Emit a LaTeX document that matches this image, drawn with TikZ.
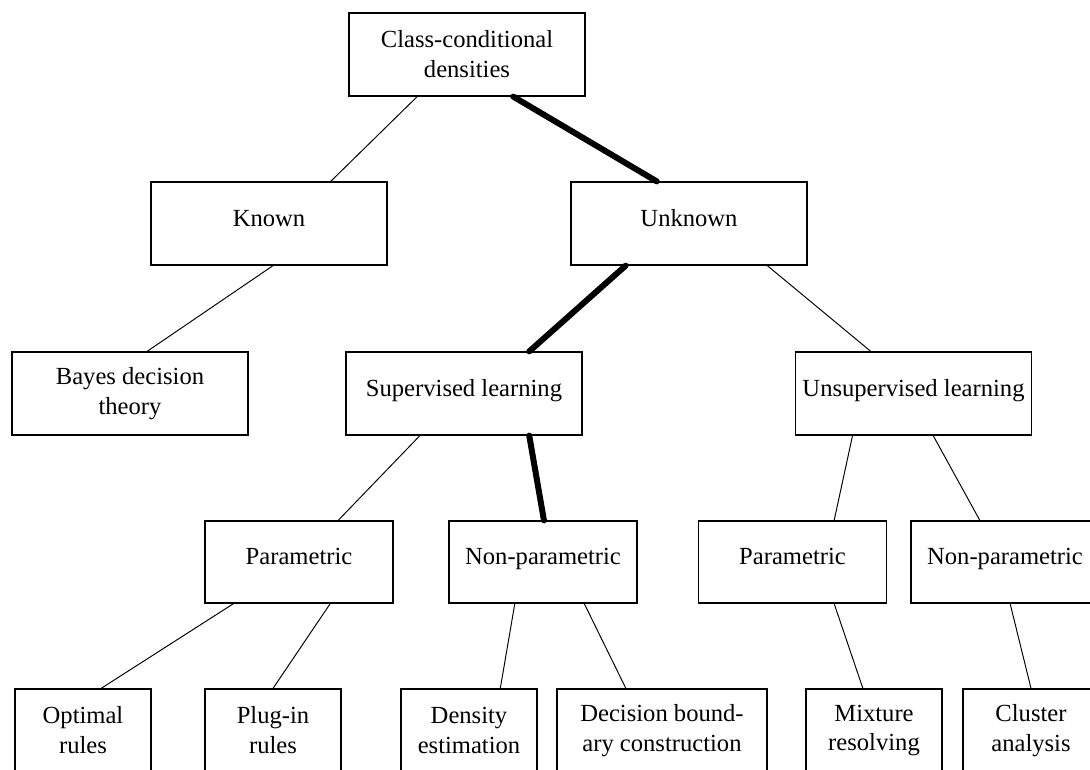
\documentclass[tikz,border=0pt]{standalone}
\usepackage{fontspec}
\setmainfont{Liberation Serif}
\usepackage{tikz}
\usetikzlibrary{calc}

\tikzset{
    box/.style={draw, line width=0.7pt, minimum width=4.72cm, minimum height=1.66cm,
        inner sep=0pt, align=center, font=\fontsize{14}{17}\selectfont},
    single/.style={text height=10pt, text depth=7pt},
    midbox/.style={box, minimum width=3.76cm, minimum height=1.64cm},
    leafbox/.style={box, minimum width=2.72cm},
    link/.style={line width=0.55pt},
    boldlink/.style={line width=3.4pt, line cap=round}
}

\begin{document}
\begin{tikzpicture}
    % Page frame
    \useasboundingbox (0,0) rectangle (21.8,-15.38);
    \clip (0,0) rectangle (21.8,-15.38);

    % Top level
    \node[box] (cls) at (9.34,-1.09) {Class-conditional\\densities};

    % Known / unknown densities
    \node[box, single] (known) at (5.38,-4.47) {Known};
    \node[box, single] (unknown) at (13.78,-4.47) {Unknown};

    % Third level
    \node[box] (bayes) at (2.60,-7.87) {Bayes decision\\theory};
    \node[box, single] (sup) at (9.28,-7.87) {Supervised learning};
    \node[box, single] (unsup) at (18.27,-7.87) {Unsupervised learning};

    % Parametric / non-parametric
    \node[midbox, single] (parl) at (5.98,-11.24) {Parametric};
    \node[midbox, single] (nparl) at (10.86,-11.24) {Non-parametric};
    \node[midbox, single] (parr) at (15.85,-11.24) {Parametric};
    \node[midbox, single] (nparr) at (20.10,-11.24) {Non-parametric};

    % Leaves
    \node[leafbox] (optimal) at (1.66,-14.61) {Optimal\\rules};
    \node[leafbox] (plugin) at (5.46,-14.61) {Plug-in\\rules};
    \node[leafbox] (density) at (9.38,-14.61) {Density\\estimation};
    \node[leafbox, minimum width=4.2cm] (boundary) at (13.24,-14.61) {Decision bound-\\ary construction};
    \node[leafbox] (mixture) at (17.48,-14.61) {Mixture\\resolving};
    \node[leafbox] (cluster) at (20.62,-14.61) {Cluster\\analysis};

    % Draw connecting lines
    \draw[link] ($(cls.south west)!.29!(cls.south east)$) -- ($(known.north west)!.76!(known.north east)$);
    \draw[boldlink] ($(cls.south west)!.695!(cls.south east)$) -- ($(unknown.north west)!.364!(unknown.north east)$);
    \draw[link] ($(known.south west)!.517!(known.south east)$) -- ($(bayes.north west)!.572!(bayes.north east)$);
    \draw[boldlink] ($(unknown.south west)!.233!(unknown.south east)$) -- ($(sup.north west)!.775!(sup.north east)$);
    \draw[link] ($(unknown.south west)!.83!(unknown.south east)$) -- ($(unsup.north west)!.32!(unsup.north east)$);
    \draw[link] ($(sup.south west)!.314!(sup.south east)$) -- ($(parl.north west)!.707!(parl.north east)$);
    \draw[boldlink] ($(sup.south west)!.775!(sup.south east)$) -- ($(nparl.north west)!.505!(nparl.north east)$);
    \draw[link] ($(unsup.south west)!.243!(unsup.south east)$) -- ($(parr.north west)!.72!(parr.north east)$);
    \draw[link] ($(unsup.south west)!.583!(unsup.south east)$) -- ($(nparr.north west)!.367!(nparr.north east)$);
    \draw[link] ($(parl.south west)!.154!(parl.south east)$) -- ($(optimal.north west)!.632!(optimal.north east)$);
    \draw[link] ($(parl.south west)!.665!(parl.south east)$) -- ($(plugin.north west)!.5!(plugin.north east)$);
    \draw[link] ($(nparl.south west)!.351!(nparl.south east)$) -- ($(density.north west)!.728!(density.north east)$);
    \draw[link] ($(nparl.south west)!.718!(nparl.south east)$) -- ($(boundary.north west)!.329!(boundary.north east)$);
    \draw[link] ($(parr.south west)!.72!(parr.south east)$) -- ($(mixture.north west)!.419!(mixture.north east)$);
    \draw[link] ($(nparr.south west)!.527!(nparr.south east)$) -- ($(cluster.north west)!.5!(cluster.north east)$);
\end{tikzpicture}
\end{document}
